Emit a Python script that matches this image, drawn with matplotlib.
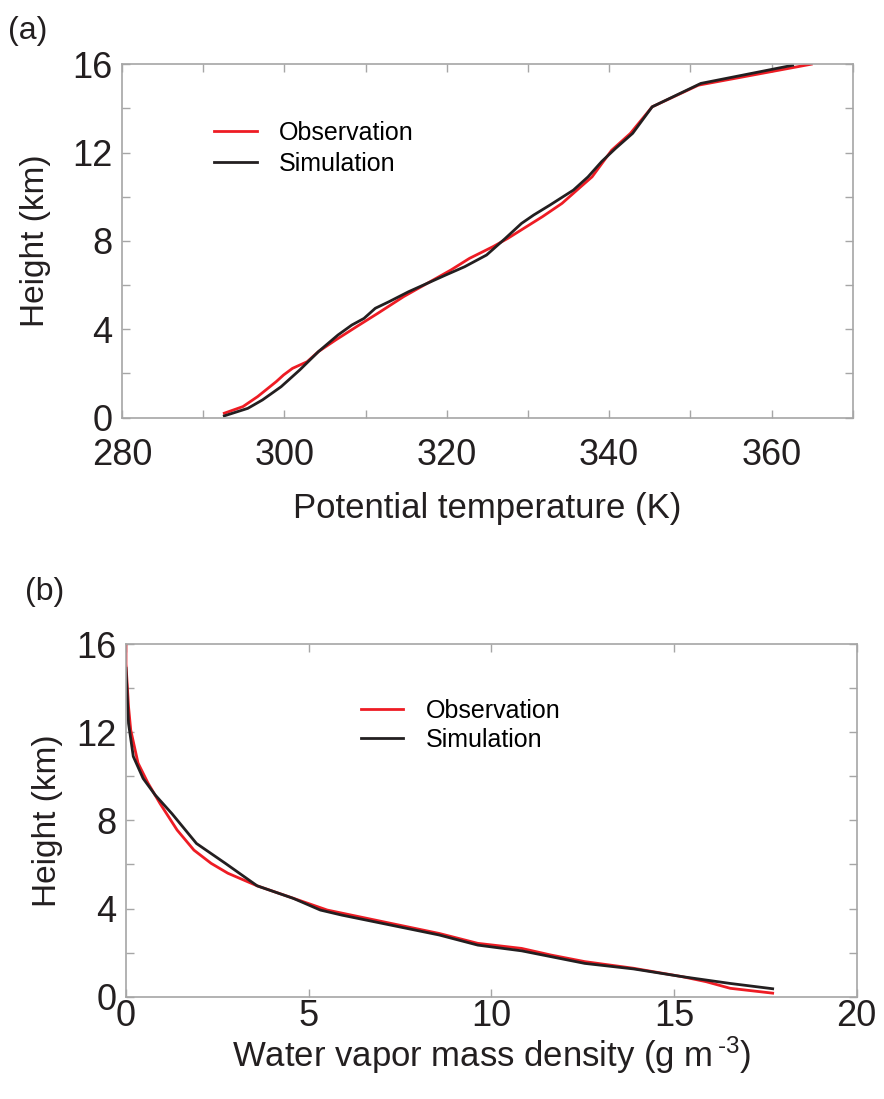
import matplotlib
matplotlib.use('Agg')
import matplotlib.pyplot as plt
from matplotlib.ticker import MultipleLocator

# (a) potential temperature profiles (K vs km)
theta_obs = [292.6, 294.9, 296.7, 299.0, 299.9, 301.0, 302.8, 304.2, 306.3, 308.9,
             311.5, 314.7, 317.6, 320.5, 322.8, 325.7, 327.5, 329.8, 331.8, 334.2,
             336.5, 337.9, 340.3, 342.6, 345.3, 351.0, 364.9]
z_theta_obs = [0.2, 0.5, 0.95, 1.63, 1.93, 2.23, 2.53, 2.99, 3.51, 4.12,
               4.72, 5.48, 6.08, 6.68, 7.21, 7.74, 8.11, 8.64, 9.1, 9.7,
               10.45, 10.9, 12.1, 12.86, 14.07, 15.05, 16.0]
theta_sim = [292.6, 295.5, 297.3, 299.6, 301.9, 304.2, 306.6, 308.3, 309.8, 311.2,
             312.9, 315.3, 317.6, 319.9, 322.2, 324.9, 327.2, 329.2, 330.7, 332.7,
             335.6, 337.4, 339.1, 340.8, 342.9, 345.3, 351.3, 362.6]
z_theta_sim = [0.08, 0.42, 0.8, 1.4, 2.16, 2.99, 3.74, 4.19, 4.49, 4.95,
               5.25, 5.7, 6.08, 6.46, 6.83, 7.36, 8.11, 8.79, 9.17, 9.62,
               10.3, 10.9, 11.6, 12.19, 12.87, 14.07, 15.13, 15.95]

# (b) water vapor mass density profiles (g m-3 vs km)
q_obs = [0.0, 0.0, 0.07, 0.13, 0.33, 0.6, 0.93, 1.4, 1.86, 2.33, 2.79, 3.59,
         4.45, 5.51, 7.24, 8.57, 9.63, 10.83, 11.63, 12.56, 13.89, 15.22,
         15.88, 16.54, 17.7]
z_q_obs = [16.0, 15.1, 13.16, 12.1, 10.6, 9.7, 8.77, 7.56, 6.65, 6.05, 5.6, 5.03,
           4.54, 3.93, 3.33, 2.87, 2.42, 2.19, 1.89, 1.59, 1.29, 0.91,
           0.68, 0.38, 0.16]
q_sim = [0.0, 0.07, 0.2, 0.47, 0.8, 1.26, 1.93, 2.72, 3.59, 4.58, 5.32, 5.91,
         7.24, 8.57, 9.63, 10.83, 12.56, 13.89, 15.22, 16.54, 17.7]
z_q_sim = [14.9, 12.4, 10.9, 9.9, 9.15, 8.3, 6.95, 6.05, 5.03, 4.46, 3.93, 3.7,
           3.25, 2.8, 2.34, 2.08, 1.51, 1.26, 0.91, 0.6, 0.36]

RED = '#ee1c24'
BLACK = '#231f20'
GRAY = '#a6a6a6'
FONT = ['Liberation Sans', 'DejaVu Sans']


def style_axes(ax, xpad, ylabelpad):
    for s in ax.spines.values():
        s.set_color(GRAY)
        s.set_linewidth(1.2)
    ax.tick_params(which='both', direction='in', top=True, right=True,
                   length=6, width=1.0, color=GRAY, labelsize=26,
                   labelcolor=BLACK)
    ax.tick_params(axis='y', pad=7)
    ax.tick_params(axis='x', pad=xpad)
    ax.set_ylim(0, 16)
    ax.yaxis.set_major_locator(MultipleLocator(4))
    ax.yaxis.set_minor_locator(MultipleLocator(2))
    ax.set_ylabel('Height (km)', fontsize=24, color=BLACK, labelpad=ylabelpad)


def main():
    plt.rcParams['font.family'] = FONT
    plt.rcParams['mathtext.fontset'] = 'custom'
    plt.rcParams['mathtext.rm'] = 'Liberation Sans'
    plt.rcParams['mathtext.default'] = 'rm'

    fig = plt.figure(figsize=(8.84, 10.99), dpi=100)

    ax1 = fig.add_axes([0.138, 0.620, 0.8266, 0.3216])
    ax1.plot(theta_obs, z_theta_obs, color=RED, lw=2.0, label='Observation')
    ax1.plot(theta_sim, z_theta_sim, color=BLACK, lw=2.0, label='Simulation')
    ax1.set_xlim(280, 370)
    ax1.xaxis.set_major_locator(MultipleLocator(20))
    ax1.xaxis.set_minor_locator(MultipleLocator(10))
    style_axes(ax1, xpad=15, ylabelpad=15)
    ax1.set_xlabel('Potential temperature (K)', fontsize=25, color=BLACK, labelpad=13)
    ax1.legend(loc='upper left', bbox_to_anchor=(0.126, 0.84), frameon=False,
               fontsize=18, borderpad=0, handlelength=1.7, handletextpad=0.9,
               labelspacing=0.3, borderaxespad=0)
    fig.text(0.009, 0.985, '(a)', fontsize=23, color=BLACK, va='top', ha='left')

    ax2 = fig.add_axes([0.1425, 0.0931, 0.8266, 0.3209])
    ax2.plot(q_obs, z_q_obs, color=RED, lw=2.0, label='Observation')
    ax2.plot(q_sim, z_q_sim, color=BLACK, lw=2.0, label='Simulation')
    ax2.set_xlim(0, 20)
    ax2.xaxis.set_major_locator(MultipleLocator(5))
    style_axes(ax2, xpad=2, ylabelpad=9)
    ax2.set_xlabel('Water vapor mass density (g m$^{\\,\\text{-3}}$)', fontsize=25,
                   color=BLACK, labelpad=0)
    ax2.legend(loc='upper left', bbox_to_anchor=(0.3216, 0.845), frameon=False,
               fontsize=18, borderpad=0, handlelength=1.7, handletextpad=0.9,
               labelspacing=0.2, borderaxespad=0)
    fig.text(0.028, 0.475, '(b)', fontsize=23, color=BLACK, va='top', ha='left')

    fig.savefig('out.png', dpi=100)


if __name__ == '__main__':
    main()
